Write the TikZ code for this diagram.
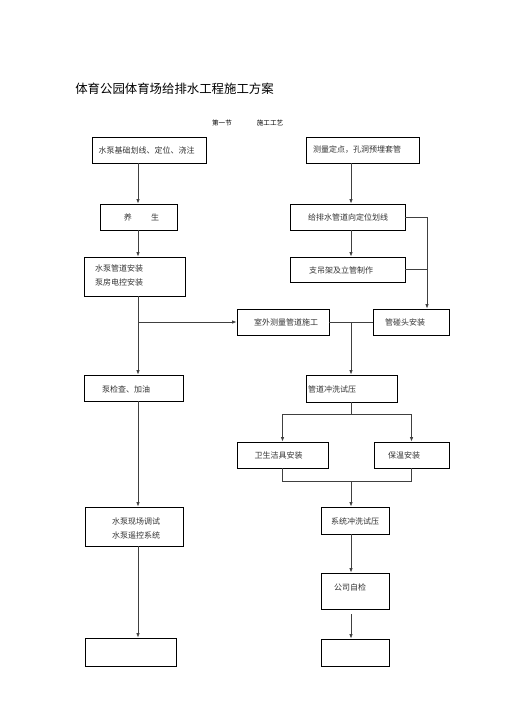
\documentclass[tikz,border=0pt]{standalone}
\usepackage{fontspec}
\setmainfont{Noto Sans CJK SC}
\usetikzlibrary{arrows.meta}
\tikzset{
  box/.style={draw=black, line width=0.8pt, inner sep=0pt, rectangle},
  txt/.style={inner sep=0pt, text=black!80, font=\fontsize{8}{14}\selectfont},
  conn/.style={draw=black!75, line width=0.8pt},
  arr/.style={conn, -{Latex[length=4.5pt,width=3.5pt]}},
}
\begin{document}
\begin{tikzpicture}[x=1pt,y=-1pt]
\useasboundingbox (0,0) rectangle (505,714);
\fill[white] (0,0) rectangle (505,714);
% column guides
\coordinate (colL) at (138,0);
\coordinate (colR) at (351,0);
\coordinate (colJ) at (427,0);
% title
\node[inner sep=0pt, font=\fontsize{12.4}{14}\selectfont] (title) at (174.5,89) {体育公园体育场给排水工程施工方案};
\node[inner sep=0pt, font=\fontsize{6.6}{8}\selectfont] (sub1) at (222,123) {第一节};
\node[inner sep=0pt, font=\fontsize{6.6}{8}\selectfont] (sub2) at (270,123) {施工工艺};
% left column boxes
\node[box, minimum width=114, minimum height=26] (L1) at (149,150) {};
\node[box, minimum width=77, minimum height=26] (L2) at (138.5,217) {};
\node[box, minimum width=101, minimum height=39] (L3) at (134.5,276.5) {};
\node[box, minimum width=99, minimum height=26] (L4) at (133.5,388) {};
\node[box, minimum width=98, minimum height=39] (L5) at (134,526.5) {};
\node[box, minimum width=91, minimum height=28] (L6) at (130.5,652) {};
% right column boxes
\node[box, minimum width=113, minimum height=26] (R1) at (362.5,150) {};
\node[box, minimum width=115, minimum height=26] (R2) at (347.5,217) {};
\node[box, minimum width=115, minimum height=25] (R3) at (347.5,269.5) {};
\node[box, minimum width=92, minimum height=26] (M) at (283,322) {};
\node[box, minimum width=76, minimum height=26] (J) at (411,322) {};
\node[box, minimum width=91, minimum height=27] (P) at (351.5,388.5) {};
\node[box, minimum width=91, minimum height=26] (S) at (282.5,455) {};
\node[box, minimum width=75, minimum height=26] (B) at (411.5,455) {};
\node[box, minimum width=68, minimum height=27] (X) at (355,520.5) {};
\node[box, minimum width=68, minimum height=36] (G) at (355,591) {};
\node[box, minimum width=68, minimum height=27] (E2) at (355,652.5) {};
% texts
\node[txt] (tL1) at (146.5,150) {水泵基础划线、定位、浇注};
\node[txt] (tL2) at (141.5,217) {养\hspace{2.4em}生};
\node[txt, anchor=west] (tL3a) at (95,268) {水泵管道安装};
\node[txt, anchor=west] (tL3b) at (95,282) {泵房电控安装};
\node[txt, anchor=west] (tL4) at (102,389) {泵检查、加油};
\node[txt] (tL5a) at (136,521) {水泵现场调试};
\node[txt] (tL5b) at (136,535) {水泵遥控系统};
\node[txt] (tR1) at (357,150) {测量定点，孔洞预埋套管};
\node[txt] (tR2) at (348,217) {给排水管道向定位划线};
\node[txt, anchor=west] (tR3) at (309,270) {支吊架及立管制作};
\node[txt] (tM) at (286,322) {室外测量管道施工};
\node[txt] (tJ) at (405,322) {管碰头安装};
\node[txt, anchor=west] (tP) at (308,389) {管道冲洗试压};
\node[txt] (tS) at (278.5,455) {卫生洁具安装};
\node[txt] (tB) at (404,455) {保温安装};
\node[txt] (tX) at (355,521) {系统冲洗试压};
\node[txt] (tG) at (350,587) {公司自检};
% left connectors
\draw[arr] (L1.south -| colL) -- (L2.north -| colL);
\draw[arr] (L2.south -| colL) -- (L3.north -| colL);
\draw[arr] (L3.south -| colL) -- (L4.north -| colL);
\draw[arr] (M.west -| colL) -- (M.west);
\draw[arr] (L4.south -| colL) -- (L5.north -| colL);
\draw[arr] (L5.south -| colL) -- (L6.north -| colL);
% right connectors
\draw[arr] (R1.south -| colR) -- (R2.north -| colR);
\draw[arr] (R2.south -| colR) -- (R3.north -| colR);
\draw[conn] (R2.east) -- (R2.east -| colJ);
\draw[arr] (R2.east -| colJ) -- (J.north -| colJ);
\draw[conn] (R3.east) -- (R3.east -| colJ);
\draw[conn] (M.east) -- (J.west);
\draw[arr] (M.east -| colR) -- (P.north -| colR);
\coordinate (s1) at (351,414);
\coordinate (m1) at (351,481);
\draw[conn] (P.south -| colR) -- (s1);
\draw[conn] (S.north |- s1) -- (B.north |- s1);
\draw[arr] (S.north |- s1) -- (S.north);
\draw[arr] (B.north |- s1) -- (B.north);
\draw[conn] (S.south) -- (S.south |- m1) -- (B.south |- m1) -- (B.south);
\draw[arr] (m1) -- (X.north -| colR);
\draw[arr] (X.south -| colR) -- (G.north -| colR);
\draw[arr] ([yshift=-5pt]G.south -| colR) -- (E2.north -| colR);
\end{tikzpicture}
\end{document}
